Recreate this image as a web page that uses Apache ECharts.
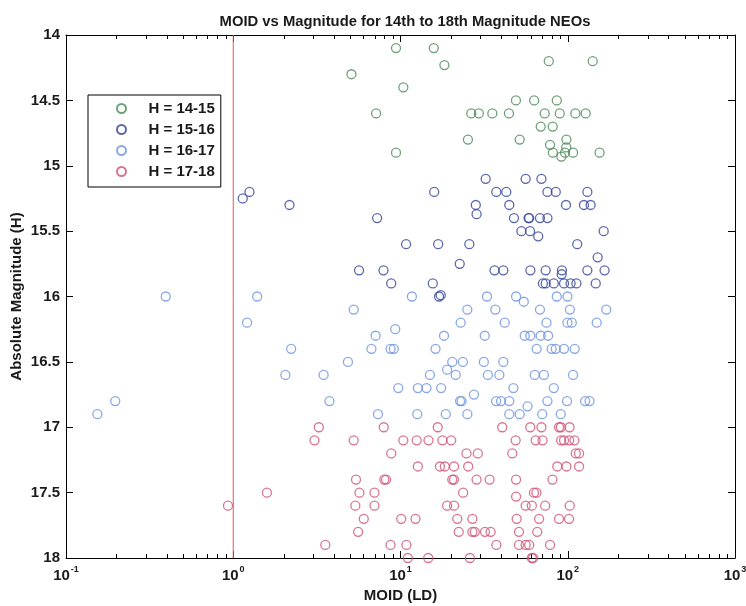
<!DOCTYPE html>
<html>
<head>
<meta charset="utf-8">
<script src="https://cdn.jsdelivr.net/npm/echarts@6/dist/echarts.min.js"></script>
<style>
html,body{margin:0;padding:0;background:#fff;}
#chart{width:746px;height:606px;}
</style>
</head>
<body>
<div id="chart"></div>
<script>
// ---- data: [MOID (LD), absolute magnitude H] ----
var seriesNames = ['H = 14-15', 'H = 15-16', 'H = 16-17', 'H = 17-18'];

var green14_15 = [
 [9.4,14.1],[15.8,14.1],[77,14.2],[141,14.2],[18.3,14.23],[5.09,14.3],[10.4,14.4],
 [49,14.5],[63,14.5],[86,14.5],
 [7.15,14.6],[26.5,14.6],[29.4,14.6],[35.4,14.6],[44.5,14.6],[72.8,14.6],[89.6,14.6],[111,14.6],[128,14.6],
 [68.9,14.7],[81.3,14.7],
 [25.3,14.8],[51.6,14.8],[98.2,14.8],[78.4,14.84],[98,14.86],
 [9.4,14.9],[81.5,14.9],[96.3,14.9],[107.6,14.9],[155,14.9],[91.6,14.93]
];

var blue15_16 = [
 [32.3,15.1],[56,15.1],[69.6,15.1],
 [1.25,15.2],[15.9,15.2],[37.4,15.2],[42.9,15.2],[75.6,15.2],[84.8,15.2],[131,15.2],
 [1.14,15.25],
 [2.17,15.3],[28.2,15.3],[44.7,15.3],[97.6,15.3],[125,15.3],[137,15.3],
 [28.5,15.37],
 [7.25,15.4],[47.7,15.4],[58.3,15.4],[58.8,15.4],[68.2,15.4],[75.6,15.4],
 [52.8,15.5],[59.5,15.5],[164,15.5],
 [66.6,15.54],
 [10.8,15.6],[16.8,15.6],[25.8,15.6],[114,15.6],
 [151,15.7],
 [22.6,15.75],
 [5.65,15.8],[7.91,15.8],[36.5,15.8],[41.2,15.8],[59.8,15.8],[73.8,15.8],[92.3,15.8],[131,15.8],[166,15.8],
 [92,15.83],
 [8.8,15.9],[15.6,15.9],[71,15.9],[73.8,15.9],[82.5,15.9],[95,15.9],[104,15.9],[112.7,15.9],[147,15.9],
 [17.0,16.0],[17.4,15.99]
];

var lightblue16_17 = [
 [0.395,16.0],[1.39,16.0],[11.7,16.0],[32.9,16.0],[49.1,16.0],[86,16.0],[99.6,16.0],
 [54.6,16.04],
 [5.25,16.1],[25.1,16.1],[36.9,16.1],[68.2,16.1],[103,16.1],[170,16.1],
 [1.21,16.2],[22.9,16.2],[42,16.2],[74.6,16.2],[99.6,16.2],[105.7,16.2],[149,16.2],
 [9.3,16.25],
 [7.1,16.3],[18.2,16.3],[31.9,16.3],[55.3,16.3],[59.8,16.3],[68.9,16.3],[76.3,16.3],
 [2.22,16.4],[6.7,16.4],[8.72,16.4],[9.12,16.4],[16.2,16.4],[65.2,16.4],[80.1,16.4],[84.8,16.4],[95,16.4],[110,16.4],
 [4.85,16.5],[20.4,16.5],[23.6,16.5],[31.5,16.5],[41.2,16.5],
 [19.0,16.56],
 [2.05,16.6],[3.47,16.6],[15,16.6],[21.4,16.6],[33.3,16.6],[39,16.6],[63.5,16.6],[72,16.6],[107.6,16.6],
 [9.7,16.7],[12.7,16.7],[14.3,16.7],[17.5,16.7],[47.3,16.7],[82.5,16.7],
 [27.5,16.75],
 [0.197,16.8],[3.76,16.8],[22.7,16.8],[23.2,16.8],[37.3,16.8],[39.9,16.8],[44.7,16.8],[75.6,16.8],[99,16.8],[127,16.8],[135,16.8],
 [57.5,16.84],
 [0.154,16.9],[7.33,16.9],[12.6,16.9],[18.65,16.9],[25.1,16.9],[44.7,16.9],[51.6,16.9],[70.4,16.9],[90.8,16.9]
];

var red17_18 = [
 [3.25,17.0],[7.94,17.0],[16.7,17.0],[40.6,17.0],[59.7,17.0],[69.6,17.0],[88.7,17.0],[91,17.0],[102.5,17.0],
 [3.06,17.1],[5.25,17.1],[10.4,17.1],[12.5,17.1],[14.7,17.1],[17.8,17.1],[20.1,17.1],[48.8,17.1],[64.3,17.1],[70.7,17.1],[91.3,17.1],[95,17.1],[102,17.1],[109.7,17.1],
 [8.8,17.2],[24.8,17.2],[29,17.2],[46.6,17.2],[111.7,17.2],[116.9,17.2],
 [12.7,17.3],[17.2,17.3],[18.4,17.3],[20.9,17.3],[25.4,17.3],[86.6,17.3],[98.2,17.3],[116.9,17.3],
 [5.42,17.4],[8.0,17.4],[8.2,17.4],[20.4,17.4],[20.9,17.4],[28.5,17.4],[34.1,17.4],[49.1,17.4],[81,17.4],
 [1.59,17.5],[5.68,17.5],[6.99,17.5],[23.7,17.5],[49.1,17.53],[62.8,17.5],[65,17.5],
 [0.93,17.6],[5.37,17.6],[6.99,17.6],[19.0,17.6],[20.9,17.6],[56,17.6],[61,17.6],[73.3,17.6],[102.8,17.6],
 [6.03,17.7],[10.1,17.7],[12.3,17.7],[21.85,17.7],[26.9,17.7],[49.5,17.7],[67.4,17.7],[88.7,17.7],[101.8,17.7],
 [5.58,17.8],[22.3,17.8],[26.9,17.8],[27.8,17.8],[32,17.8],[34.6,17.8],[51.1,17.8],[65.7,17.8],
 [3.55,17.9],[8.72,17.9],[10.85,17.9],[37.4,17.9],[51.1,17.9],[56,17.9],[58.8,17.9],[78.4,17.9],
 [11.06,18.0],[14.65,18.0],[26,18.0],[61,18.0],[62,18.0]
];

// vertical reference line at MOID = 1 LD
var refLine = [[1,14],[1,18]];

// axis ranges / ticks
var xRange = [0.1, 1000];
var yRange = [14, 18];
var yTickStep = 0.5;
var xMinorMultipliers = [2,3,4,5,6,7,8,9];
var xDecades = [0.1, 1, 10, 100];

var colors = ['#4a8a55', '#33429a', '#6b92e0', '#cf5274'];

// minor tick positions (axis decoration)
var minorTicks = [];
xDecades.forEach(function(d){ xMinorMultipliers.forEach(function(m){ minorTicks.push([d*m, 16]); }); });

var FONT = '"Liberation Sans", Arial, Helvetica, sans-serif';
var TXT = '#1a1a1a';

function supLabel(v){
  var e = Math.round(Math.log(v)/Math.LN10);
  return '{b|10}{s|' + e + '}';
}

var chart = echarts.init(document.getElementById('chart'), null, {renderer:'canvas'});

function scatter(name, data, color){
  return {
    name: name, type: 'scatter', data: data,
    xAxisIndex: 0, yAxisIndex: 0,
    symbol: 'circle', symbolSize: 9,
    itemStyle: { color: 'rgba(0,0,0,0)', borderColor: color, borderWidth: 1.3 },
    emphasis: { disabled: true },
    clip: false
  };
}

var axisLineStyle = { color: '#000', width: 1 };

var option = {
  backgroundColor: '#fff',
  animation: false,
  textStyle: { fontFamily: FONT },
  title: {
    text: 'MOID vs Magnitude for 14th to 18th Magnitude NEOs',
    left: 400, top: 9, textAlign: 'center',
    textStyle: { fontFamily: FONT, fontSize: 14.8, fontWeight: 'bold', color: TXT }
  },
  legend: {
    data: seriesNames,
    orient: 'vertical',
    left: 88, top: 95,
    padding: [6, 6, 8, 28],
    itemWidth: 44, itemHeight: 9, itemGap: 6,
    borderColor: '#000', borderWidth: 1,
    backgroundColor: '#fff',
    textStyle: { fontFamily: FONT, fontSize: 15, fontWeight: 'bold', color: TXT, lineHeight: 14 }
  },
  grid: { left: 66, right: 11, top: 35, bottom: 48, show: false, containLabel: false, outerBoundsMode: 'none' },
  xAxis: [
    {
      type: 'log', logBase: 10, min: xRange[0], max: xRange[1], position: 'bottom',
      name: 'MOID (LD)', nameLocation: 'middle', nameGap: 18,
      nameTextStyle: { fontFamily: FONT, fontSize: 15, fontWeight: 'bold', color: TXT },
      axisLine: { show: true, lineStyle: axisLineStyle },
      axisTick: { show: true, inside: true, length: 7, lineStyle: axisLineStyle },
      splitLine: { show: false },
      axisLabel: {
        margin: 7, formatter: supLabel, color: TXT,
        rich: {
          b: { fontFamily: FONT, fontSize: 15, fontWeight: 'bold', color: TXT, verticalAlign: 'bottom', lineHeight: 18 },
          s: { fontFamily: FONT, fontSize: 9, fontWeight: 'bold', color: TXT, verticalAlign: 'top', lineHeight: 18, padding: [0,0,0,1] }
        }
      }
    },
    {
      type: 'log', logBase: 10, min: xRange[0], max: xRange[1], position: 'top',
      axisLine: { show: true, lineStyle: axisLineStyle },
      axisTick: { show: true, inside: true, length: 7, lineStyle: axisLineStyle },
      splitLine: { show: false },
      axisLabel: { show: false }
    }
  ],
  yAxis: [
    {
      type: 'value', inverse: true, min: yRange[0], max: yRange[1], interval: yTickStep, position: 'left',
      name: 'Absolute Magnitude (H)', nameLocation: 'middle', nameGap: 42, nameRotate: 90,
      nameMoveOverlap: false,
      nameTextStyle: { fontFamily: FONT, fontSize: 15, fontWeight: 'bold', color: TXT },
      axisLine: { show: true, lineStyle: axisLineStyle },
      axisTick: { show: true, inside: true, length: 7, lineStyle: axisLineStyle },
      splitLine: { show: false },
      axisLabel: { fontFamily: FONT, fontSize: 15, fontWeight: 'bold', color: TXT, margin: 6 }
    },
    {
      type: 'value', inverse: true, min: yRange[0], max: yRange[1], interval: yTickStep, position: 'right',
      axisLine: { show: true, lineStyle: axisLineStyle },
      axisTick: { show: true, inside: true, length: 7, lineStyle: axisLineStyle },
      splitLine: { show: false },
      axisLabel: { show: false }
    }
  ],
  series: [
    {
      name: 'ref', type: 'line', data: refLine, xAxisIndex: 0, yAxisIndex: 0,
      symbol: 'none', silent: true, lineStyle: { color: '#e8555a', width: 1 }, z: 1
    },
    {
      name: 'minorTicks', type: 'custom', data: minorTicks, xAxisIndex: 0, yAxisIndex: 0,
      silent: true, clip: false, encode: { x: 0, y: 1 },
      renderItem: function(params, api){
        var v = api.value(0);
        var pb = api.coord([v, yRange[1]]);
        var pt = api.coord([v, yRange[0]]);
        var st = { stroke: '#000', lineWidth: 1 };
        var x = Math.round(pb[0]) + 0.5;
        return { type: 'group', children: [
          { type: 'line', shape: { x1: x, y1: pb[1], x2: x, y2: pb[1] - 4 }, style: st },
          { type: 'line', shape: { x1: x, y1: pt[1], x2: x, y2: pt[1] + 4 }, style: st }
        ]};
      }
    },
    scatter(seriesNames[0], green14_15, colors[0]),
    scatter(seriesNames[1], blue15_16, colors[1]),
    scatter(seriesNames[2], lightblue16_17, colors[2]),
    scatter(seriesNames[3], red17_18, colors[3])
  ]
};
chart.setOption(option);
</script>
</body>
</html>
